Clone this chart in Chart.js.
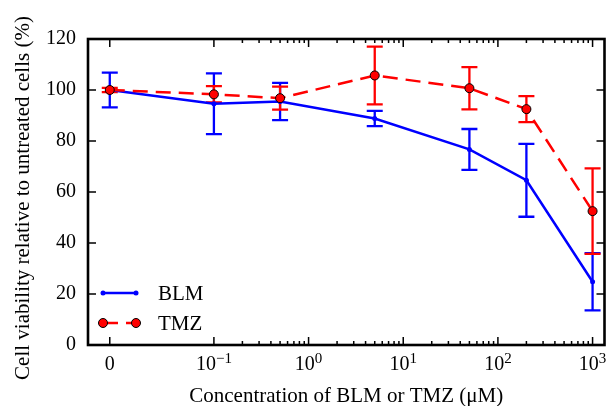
<!DOCTYPE html>
<html>
<head>
<meta charset="utf-8">
<script src="https://cdn.jsdelivr.net/npm/chart.js@4"></script>
<style>
  html, body { margin: 0; padding: 0; background: #fff; }
  #wrap { width: 610px; height: 406px; }
</style>
</head>
<body>
<div id="wrap"><canvas id="chart" width="610" height="406"></canvas></div>
<script>
// concentrations in uM (0 = untreated reference, drawn left of the first decade)
const concentrations = [0, 0.1, 0.5, 5, 50, 200, 1000];
const blmMean = [100, 94.6, 95.5, 88.8, 76.7, 64.6, 24.8];
const blmErr  = [6.8, 11.9, 7.3, 3.0, 8.0, 14.3, 11.2];
const tmzMean = [100, 98.3, 96.8, 105.7, 100.7, 92.5, 52.5];
const tmzErr  = [0.8, 3.2, 4.5, 11.3, 8.3, 5.1, 16.8];

const xTickValues = [0, 0.1, 1, 10, 100, 1000];
const xTickExponents = [null, "\u22121", "0", "1", "2", "3"];
const yTicks = [0, 20, 40, 60, 80, 100, 120];
const seriesNames = ["BLM", "TMZ"];

const FONT = "'Liberation Serif', 'Times New Roman', serif";
const ZERO_POS = -2.1;
const xPos = (c) => (c === 0 ? ZERO_POS : Math.log10(c));
const toPoints = (vals) => concentrations.map((c, i) => ({ x: xPos(c), y: vals[i] }));

function drawErrorBars(ctx, xs, ys, mean, err, color) {
  ctx.save();
  ctx.strokeStyle = color;
  ctx.lineWidth = 2.3;
  concentrations.forEach((c, i) => {
    const px = xs.getPixelForValue(xPos(c));
    const top = ys.getPixelForValue(mean[i] + err[i]);
    const bot = ys.getPixelForValue(mean[i] - err[i]);
    ctx.beginPath();
    ctx.moveTo(px, top); ctx.lineTo(px, bot);
    ctx.moveTo(px - 8, top); ctx.lineTo(px + 8, top);
    ctx.moveTo(px - 8, bot); ctx.lineTo(px + 8, bot);
    ctx.stroke();
  });
  ctx.restore();
}

const decor = {
  id: "decor",
  beforeDatasetsDraw(chart) {
    const { ctx, scales: { x, y } } = chart;
    drawErrorBars(ctx, x, y, blmMean, blmErr, "#0000ff");
    drawErrorBars(ctx, x, y, tmzMean, tmzErr, "#ff0000");
  },
  afterDraw(chart) {
    const { ctx, chartArea: a, scales: { x, y } } = chart;
    ctx.save();
    ctx.strokeStyle = "#000";

    // inward ticks
    ctx.lineWidth = 1.5;
    ctx.beginPath();
    xTickValues.forEach((v) => {
      const px = x.getPixelForValue(xPos(v));
      ctx.moveTo(px, a.bottom); ctx.lineTo(px, a.bottom - 8);
      ctx.moveTo(px, a.top); ctx.lineTo(px, a.top + 8);
    });
    for (let d = -1; d < 3; d++) {
      for (let k = 2; k < 10; k++) {
        const px = x.getPixelForValue(Math.log10(k * Math.pow(10, d)));
        ctx.moveTo(px, a.bottom); ctx.lineTo(px, a.bottom - 4);
        ctx.moveTo(px, a.top); ctx.lineTo(px, a.top + 4);
      }
    }
    yTicks.forEach((v) => {
      const py = y.getPixelForValue(v);
      ctx.moveTo(a.left, py); ctx.lineTo(a.left + 8, py);
      ctx.moveTo(a.right, py); ctx.lineTo(a.right - 8, py);
    });
    ctx.stroke();

    // frame
    ctx.lineWidth = 2.6;
    ctx.strokeRect(a.left, a.top, a.right - a.left, a.bottom - a.top);

    // x tick labels with superscripts
    ctx.fillStyle = "#000";
    ctx.textBaseline = "alphabetic";
    xTickValues.forEach((v, i) => {
      const px = x.getPixelForValue(xPos(v));
      const exp = xTickExponents[i];
      ctx.font = "20px " + FONT;
      if (exp === null) {
        ctx.textAlign = "center";
        ctx.fillText("0", px, 370);
        return;
      }
      const wBase = ctx.measureText("10").width;
      ctx.font = "15px " + FONT;
      const wExp = ctx.measureText(exp).width;
      const left = px - (wBase + wExp) / 2;
      ctx.textAlign = "left";
      ctx.fillText(exp, left + wBase, 363);
      ctx.font = "20px " + FONT;
      ctx.fillText("10", left, 370);
    });

    // axis titles
    ctx.font = "21px " + FONT;
    ctx.textAlign = "center";
    ctx.textBaseline = "alphabetic";
    ctx.fillText("Concentration of BLM or TMZ (\u03bcM)", (a.left + a.right) / 2, 402);
    ctx.save();
    ctx.translate(29, 198);
    ctx.rotate(-Math.PI / 2);
    ctx.fillText("Cell viability relative to untreated cells (%)", 0, 0);
    ctx.restore();

    // legend
    const lx0 = 103, lx1 = 136;
    ctx.strokeStyle = "#0000ff";
    ctx.fillStyle = "#0000ff";
    ctx.lineWidth = 2.5;
    ctx.beginPath(); ctx.moveTo(lx0, 293); ctx.lineTo(lx1, 293); ctx.stroke();
    [lx0, lx1].forEach((px) => { ctx.beginPath(); ctx.arc(px, 293, 2.5, 0, Math.PI * 2); ctx.fill(); });

    ctx.strokeStyle = "#ff0000";
    ctx.setLineDash([15, 8]);
    ctx.beginPath(); ctx.moveTo(lx0, 323); ctx.lineTo(lx1, 323); ctx.stroke();
    ctx.setLineDash([]);
    ctx.fillStyle = "#ff0000";
    ctx.lineWidth = 1;
    ctx.strokeStyle = "#000";
    [lx0, lx1].forEach((px) => {
      ctx.beginPath(); ctx.arc(px, 323, 4.5, 0, Math.PI * 2); ctx.fill(); ctx.stroke();
    });

    ctx.fillStyle = "#000";
    ctx.textAlign = "left";
    ctx.textBaseline = "middle";
    ctx.font = "21px " + FONT;
    ctx.fillText(seriesNames[0], 158, 294);
    ctx.fillText(seriesNames[1], 158, 324);
    ctx.restore();
  },
};

new Chart(document.getElementById("chart"), {
  type: "line",
  data: {
    datasets: [
      {
        label: seriesNames[0], data: toPoints(blmMean), order: 1,
        borderColor: "#0000ff", borderWidth: 2.5, tension: 0,
        pointRadius: 2.5, pointBackgroundColor: "#0000ff", pointBorderWidth: 0,
      },
      {
        label: seriesNames[1], data: toPoints(tmzMean), order: 0,
        borderColor: "#ff0000", borderWidth: 2.5, borderDash: [15, 8], tension: 0,
        pointRadius: 4.5, pointBackgroundColor: "#ff0000", pointBorderColor: "#000", pointBorderWidth: 1,
      },
    ],
  },
  options: {
    responsive: false,
    animation: false,
    devicePixelRatio: 1,
    layout: { padding: { left: 0, right: 3, top: 39, bottom: 0 } },
    plugins: { legend: { display: false }, tooltip: { enabled: false } },
    scales: {
      x: {
        type: "linear", min: -2.33, max: 3.126,
        grid: { display: false }, border: { display: false },
        ticks: { display: false },
        afterFit: (s) => { s.height = 61; },
      },
      y: {
        min: 0, max: 120,
        grid: { display: false, drawTicks: false }, border: { display: false },
        ticks: { stepSize: 20, color: "#000", padding: 12, font: { family: FONT, size: 20 } },
        afterFit: (s) => { s.width = 88; },
      },
    },
  },
  plugins: [decor],
});
</script>
</body>
</html>
